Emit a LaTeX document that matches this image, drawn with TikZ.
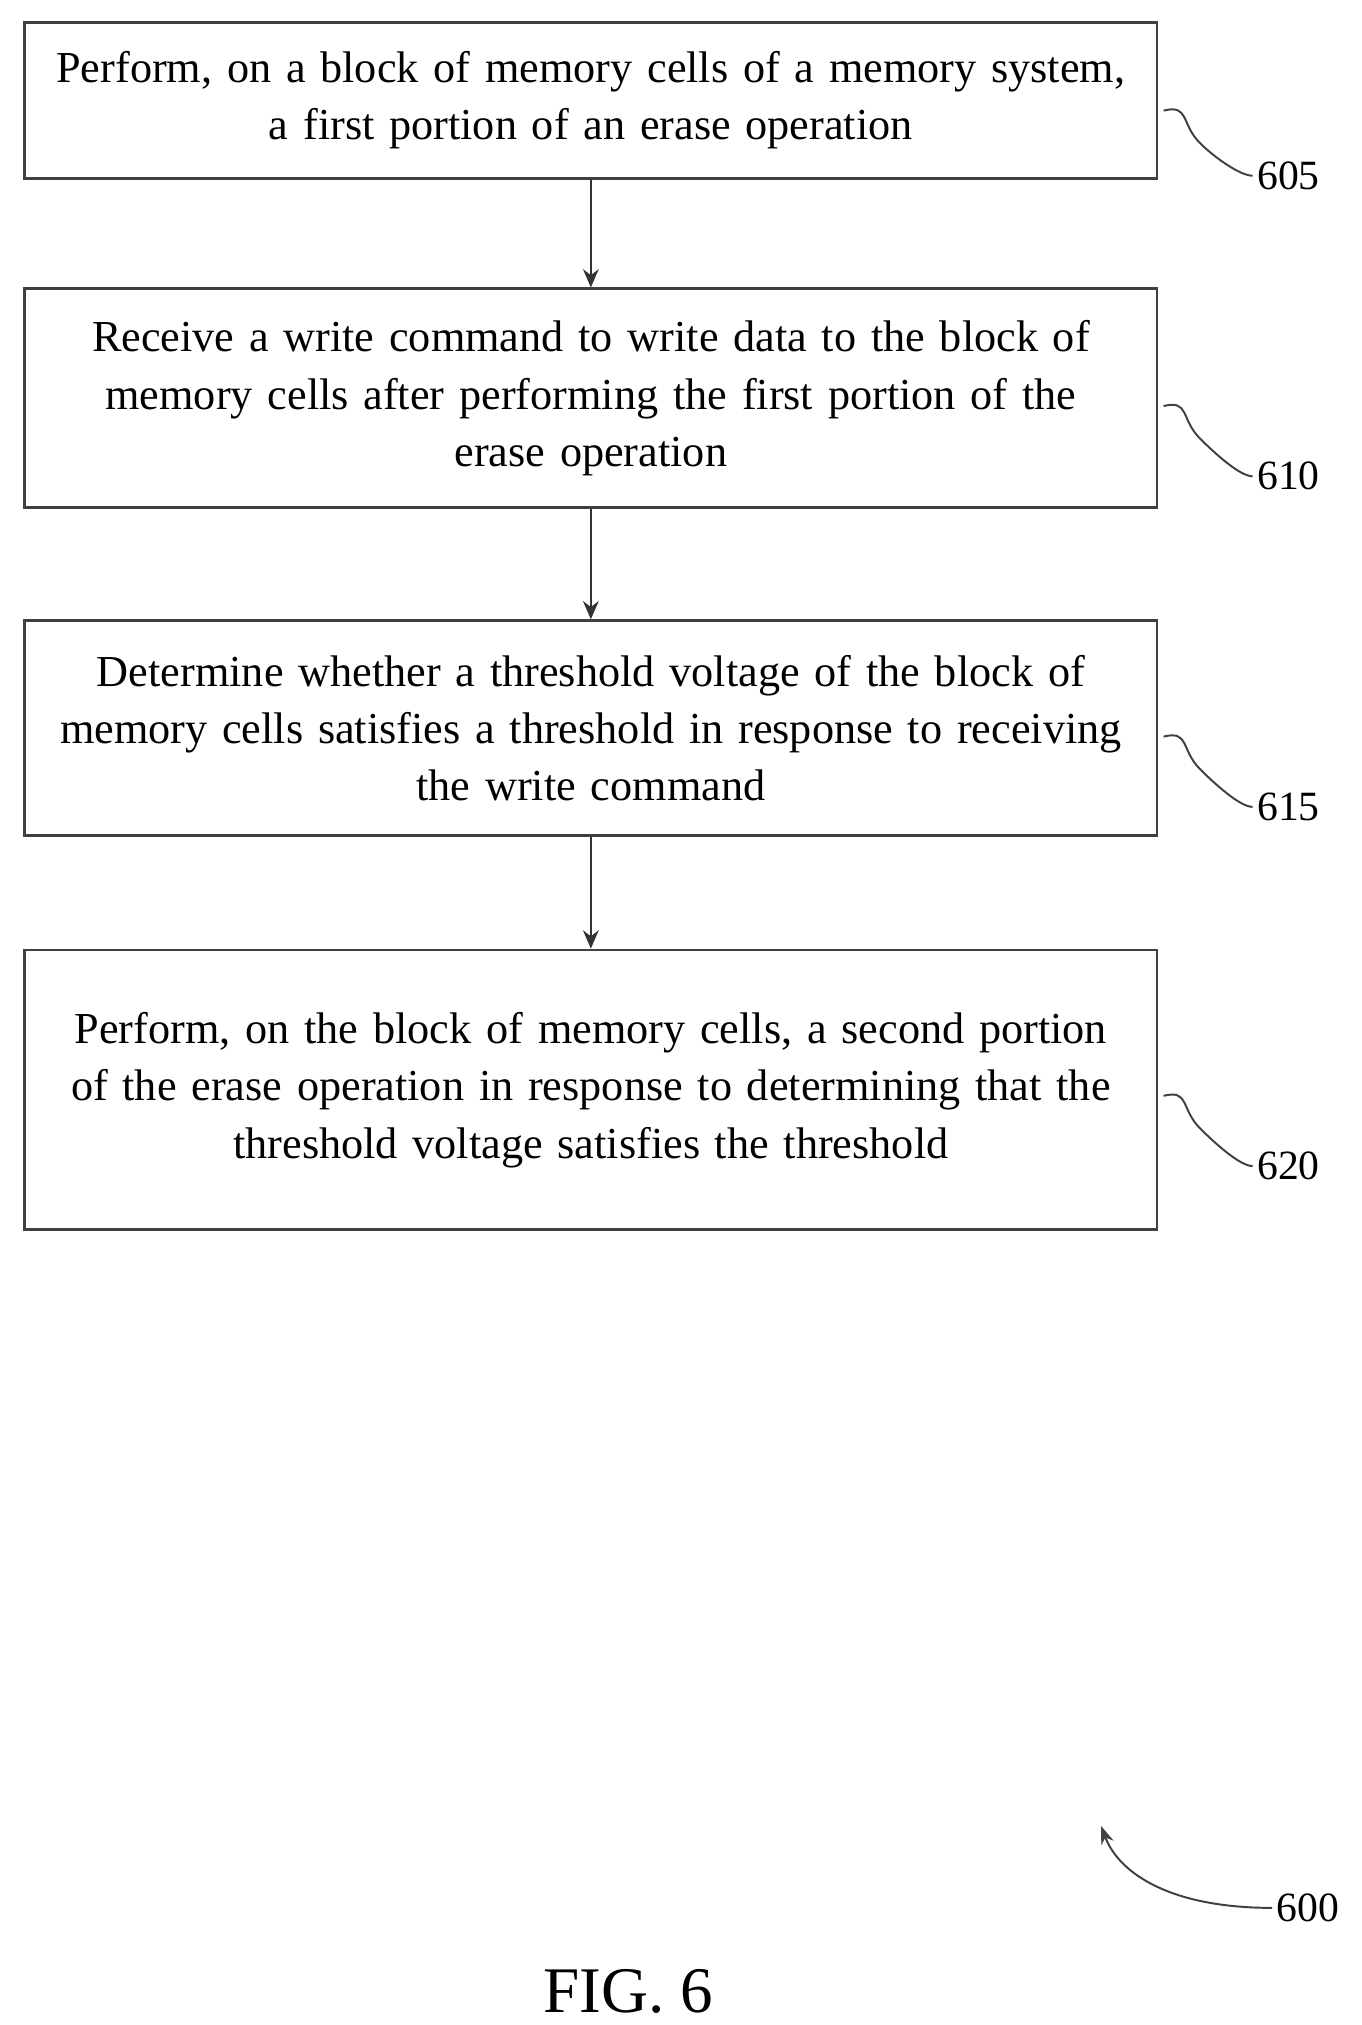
\documentclass[tikz,border=0pt]{standalone}
\usepackage{fontspec}
\setmainfont{Liberation Serif}
\usetikzlibrary{arrows.meta}
\begin{document}
\begin{tikzpicture}[x=1pt,y=-1pt,
  box/.style={draw=black!75,line width=2.2pt,minimum width=870pt,text width=866pt,align=center,font=\fontsize{34}{44}\selectfont,inner sep=0pt},
  arr/.style={-{Stealth[length=14pt,width=12pt]},line width=2pt,black!80},
  lab/.style={font=\fontsize{32}{38}\selectfont},
  sq/.style={line width=1.5pt,black!75}]
\useasboundingbox[fill=white] (0,0) rectangle (1046,1556);
\node[box,minimum height=120pt] (b1) at (454,77) {Perform, on a block of memory cells of a memory system,\\a first portion of an erase operation};
\node[box,minimum height=168pt] (b2) at (454,306) {Receive a write command to write data to the block of\\memory cells after performing the first portion of the\\erase operation};
\node[box,minimum height=165pt] (b3) at (454,559.5) {Determine whether a threshold voltage of the block of\\memory cells satisfies a threshold in response to receiving\\the write command};
\node[box,minimum height=215pt] (b4) at (454,837.5) {Perform, on the block of memory cells, a second portion\\of the erase operation in response to determining that the\\threshold voltage satisfies the threshold};
\draw[arr] (b1) -- (b2);
\draw[arr] (b2) -- (b3);
\draw[arr] (b3) -- (b4);
\node[lab] (l1) at (990,135) {605};
\node[lab] (l2) at (990,366) {610};
\node[lab] (l3) at (990,620) {615};
\node[lab] (l4) at (990,896) {620};
\foreach \b/\l/\y in {b1/l1/85,b2/l2/312,b3/l3/566,b4/l4/842}{
  \draw[sq] ([xshift=4pt]\b.east |- 0,\y) .. controls ++(20,-5) and ++(-15,-15) .. ++(28,25) .. controls ++(10,10) and ++(-10,0) .. (\l.west);
}
\node[lab] (l600) at (1005,1466) {600};
\coordinate (t600) at (846,1403);
\draw[sq,-{Stealth[length=14pt,width=10pt]}] (l600.west) .. controls (900,1466) and (860,1440) .. (t600);
\node[font=\fontsize{50}{56}\selectfont] (fig) at (483,1530) {FIG. 6};
\end{tikzpicture}
\end{document}
